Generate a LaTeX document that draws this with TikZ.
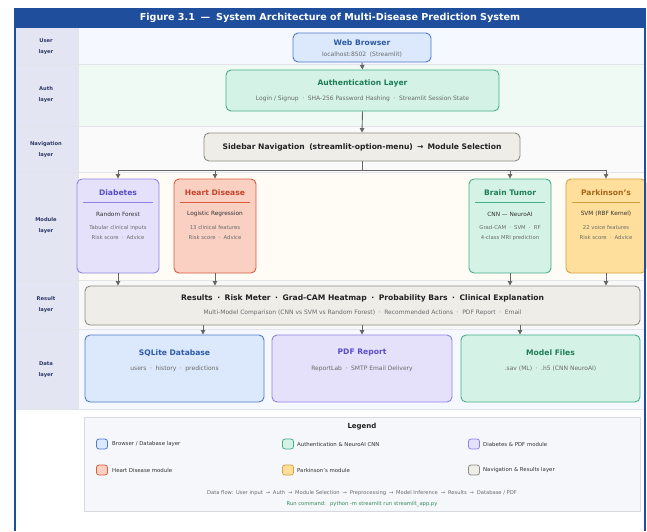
\documentclass[tikz,border=0pt]{standalone}
\usepackage{fontspec}
\setmainfont{DejaVu Sans}
\usetikzlibrary{arrows.meta,calc}
\definecolor{framebl}{HTML}{1F4E9C}
\definecolor{lblcol}{HTML}{E4E5F3}
\definecolor{lbltxt}{HTML}{2E3A66}
\definecolor{rowuser}{HTML}{F5F8FE}
\definecolor{rowauth}{HTML}{F0FAF5}
\definecolor{rownav}{HTML}{FAFAFA}
\definecolor{rowmod}{HTML}{FFFCF5}
\definecolor{rowres}{HTML}{F8F8F8}
\definecolor{rowdata}{HTML}{F5F8FE}
\definecolor{sepcol}{HTML}{E2E4EC}
\definecolor{bluef}{HTML}{DCE8FB}
\definecolor{blued}{HTML}{4F7BC9}
\definecolor{bluet}{HTML}{2D5BA8}
\definecolor{greenf}{HTML}{D4F3E6}
\definecolor{greend}{HTML}{45AE87}
\definecolor{greent}{HTML}{1F7D57}
\definecolor{purf}{HTML}{E5E1FB}
\definecolor{purd}{HTML}{8E82E3}
\definecolor{purt}{HTML}{5A4CCB}
\definecolor{redf}{HTML}{FAD0C3}
\definecolor{redd}{HTML}{D95B3D}
\definecolor{redt}{HTML}{C4432A}
\definecolor{yelf}{HTML}{FFDF9B}
\definecolor{yeld}{HTML}{D5A13E}
\definecolor{yelt}{HTML}{A2671C}
\definecolor{grayf}{HTML}{EEEDE8}
\definecolor{grayd}{HTML}{8C8B85}
\definecolor{darkt}{HTML}{222222}
\definecolor{midt}{HTML}{333333}
\definecolor{subg}{HTML}{6A6A6A}
\definecolor{arrg}{HTML}{666666}
\definecolor{legf}{HTML}{F6F7FA}
\definecolor{legd}{HTML}{D8DAE2}
\definecolor{runt}{HTML}{2E8B57}
\newcommand{\mysep}{\hspace{0.6em}·\hspace{0.6em}}
\newcommand{\myarr}{\hspace{0.55em}→\hspace{0.55em}}
\tikzset{
  box/.style={rounded corners=5pt, line width=0.9pt, inner sep=0pt, anchor=center},
  ttl/.style={font=\bfseries\fontsize{7.6}{9}\selectfont, inner sep=0pt},
  sm/.style={font=\fontsize{6}{7}\selectfont, text=subg, inner sep=0pt},
  msm/.style={font=\fontsize{5.3}{6.5}\selectfont, text=subg, inner sep=0pt},
  md/.style={font=\fontsize{5.8}{7}\selectfont, text=midt, inner sep=0pt},
  lay/.style={font=\bfseries\fontsize{5.2}{11}\selectfont, text=lbltxt, align=center, inner sep=0pt},
  arr/.style={draw=arrg, line width=0.9pt, -{Triangle[length=4.5pt,width=4.5pt]}},
  ln/.style={draw=arrg, line width=0.9pt},
  swatch/.style={rounded corners=2.5pt, line width=0.8pt, minimum width=11pt, minimum height=10pt, inner sep=0pt},
  legt/.style={font=\fontsize{5.4}{6.5}\selectfont, text=midt, anchor=west, inner sep=0pt}
}
\begin{document}
\begin{tikzpicture}[x=1pt,y=-1pt]
\useasboundingbox (0,0) rectangle (647,531);
% rows
\fill[lblcol] (15,28) rectangle (78,409);
\fill[rowuser] (78,28) rectangle (645,64);
\fill[rowauth] (78,64) rectangle (645,126);
\fill[rownav] (78,126) rectangle (645,172);
\fill[rowmod] (78,172) rectangle (645,280);
\fill[rowres] (78,280) rectangle (645,329);
\fill[rowdata] (78,329) rectangle (645,409);
\foreach \yy in {64,126,172,280,329,409} \draw[sepcol, line width=0.6pt] (15,\yy) -- (645,\yy);
\draw[sepcol, line width=0.6pt] (78,28) -- (78,409);
% layer labels
\node[lay] (l1) at (46,46.5) {User\\layer};
\node[lay] (l2) at (46,95) {Auth\\layer};
\node[lay] (l3) at (46,149.5) {Navigation\\layer};
\node[lay] (l4) at (46,226) {Module\\layer};
\node[lay] (l5) at (46,305) {Result\\layer};
\node[lay] (l6) at (46,370) {Data\\layer};
% title bar
\fill[framebl] (14,8) rectangle (645.8,28);
\node[font=\bfseries\fontsize{9.6}{11}\selectfont, text=white, inner sep=0pt] (title) at (330,18) {Figure 3.1\hspace{0.6em}—\hspace{0.6em}System Architecture of Multi-Disease Prediction System};
% web browser
\node[box, fill=bluef, draw=blued, minimum width=138pt, minimum height=29pt] (web) at (362,47.5) {};
\node[ttl, text=bluet] (webt) at (362,43) {Web Browser};
\node[sm] (webs) at (362,55) {localhost:8502\hspace{0.6em}(Streamlit)};
% auth
\node[box, fill=greenf, draw=greend, minimum width=273pt, minimum height=41pt] (auth) at (362.5,90.5) {};
\node[ttl, text=greent] (autht) at (362.5,83) {Authentication Layer};
\node[sm] (auths) at (362.5,99) {Login / Signup\mysep SHA-256 Password Hashing\mysep Streamlit Session State};
% nav
\node[box, fill=grayf, draw=grayd, minimum width=316pt, minimum height=28pt] (nav) at (362,147) {};
\node[ttl, text=darkt] (navt) at (362,147) {Sidebar Navigation\hspace{0.6em}(streamlit-option-menu)\myarr Module Selection};
% modules
\node[box, fill=purf, draw=purd, minimum width=82pt, minimum height=94pt] (diab) at (118,226) {};
\node[ttl, text=purt] (diabt) at (118,193) {Diabetes};
\draw[purd, line width=0.6pt] (83,202) -- (153,202);
\node[md] (diab1) at (118,214) {Random Forest};
\node[msm] (diab2) at (118,228) {Tabular clinical inputs};
\node[msm] (diab3) at (118,238) {Risk score\mysep Advice};

\node[box, fill=redf, draw=redd, minimum width=82pt, minimum height=94pt] (heart) at (215,226) {};
\node[ttl, text=redt] (heartt) at (215,193) {Heart Disease};
\draw[redd, line width=0.6pt] (180,202) -- (250,202);
\node[md] (heart1) at (215,213.5) {Logistic Regression};
\node[msm] (heart2) at (215,228) {13 clinical features};
\node[msm] (heart3) at (215,238) {Risk score\mysep Advice};

\node[box, fill=greenf, draw=greend, minimum width=82pt, minimum height=94pt] (brain) at (510,226) {};
\node[ttl, text=greent] (braint) at (510,193) {Brain Tumor};
\draw[greend, line width=0.6pt] (475,202) -- (545,202);
\node[md] (brain1) at (510,214) {CNN — NeuroAI};
\node[msm] (brain2) at (510,228) {Grad-CAM\mysep SVM\mysep RF};
\node[msm] (brain3) at (510,238) {4-class MRI prediction};

\node[box, fill=yelf, draw=yeld, minimum width=80pt, minimum height=94pt] (park) at (606,226) {};
\node[ttl, text=yelt] (parkt) at (606,193) {Parkinson's};
\draw[yeld, line width=0.6pt] (572,202) -- (640,202);
\node[md] (park1) at (606,214) {SVM (RBF Kernel)};
\node[msm] (park2) at (606,228) {22 voice features};
\node[msm] (park3) at (606,238) {Risk score\mysep Advice};
% result
\node[box, fill=grayf, draw=grayd, minimum width=555pt, minimum height=39pt] (res) at (362.5,305.5) {};
\node[ttl, text=darkt] (rest) at (362.5,298) {Results\mysep Risk Meter\mysep Grad-CAM Heatmap\mysep Probability Bars\mysep Clinical Explanation};
\node[sm] (ress) at (362.5,313) {Multi-Model Comparison (CNN vs SVM vs Random Forest)\mysep Recommended Actions\mysep PDF Report\mysep Email};
% data
\node[box, fill=bluef, draw=blued, minimum width=179pt, minimum height=67pt] (sql) at (174.5,368.5) {};
\node[ttl, text=bluet] (sqlt) at (174.5,353) {SQLite Database};
\node[sm] (sqls) at (174.5,369) {users\mysep history\mysep predictions};
\node[box, fill=purf, draw=purd, minimum width=180pt, minimum height=67pt] (pdf) at (362,368.5) {};
\node[ttl, text=purt] (pdft) at (362,353) {PDF Report};
\node[sm] (pdfs) at (362,369) {ReportLab\mysep SMTP Email Delivery};
\node[box, fill=greenf, draw=greend, minimum width=179pt, minimum height=67pt] (model) at (550.5,368.5) {};
\node[ttl, text=greent] (modelt) at (550.5,353) {Model Files};
\node[sm] (models) at (550.5,369) {.sav (ML)\mysep .h5 (CNN NeuroAI)};
% connectors
\draw[arr] (web.south) -- (auth.north);
\draw[arr] (auth.south) -- (nav.north);
\coordinate (bj) at (362,170);
\draw[ln] (nav.south) -- (bj);
\draw[arr] (bj) -| (diab.north);
\draw[arr] (bj) -| (heart.north);
\draw[arr] (bj) -| (brain.north);
\draw[arr] (bj) -| (park.north);
\draw[arr] (diab.south) -- (diab.south |- res.north);
\draw[arr] (heart.south) -- (heart.south |- res.north);
\draw[arr] (brain.south) -- (brain.south |- res.north);
\draw[arr] (park.south) -- (park.south |- res.north);
\coordinate (d1) at (203,0);
\coordinate (d2) at (362,0);
\coordinate (d3) at (520,0);
\draw[arr] (d1 |- res.south) -- (d1 |- sql.north);
\draw[arr] (d2 |- res.south) -- (d2 |- pdf.north);
\draw[arr] (d3 |- res.south) -- (d3 |- model.north);
% legend
\node[draw=legd, fill=legf, line width=0.6pt, minimum width=556pt, minimum height=94pt, inner sep=0pt] (leg) at (362,464) {};
\node[font=\bfseries\fontsize{7}{8}\selectfont, text=darkt, inner sep=0pt] (legtitle) at (362,427) {Legend};
\node[swatch, fill=bluef, draw=blued] (s1) at (102,444) {};
\node[legt] (t1) at (112,444) {Browser / Database layer};
\node[swatch, fill=greenf, draw=greend] (s2) at (288,444) {};
\node[legt] (t2) at (297,444) {Authentication \& NeuroAI CNN};
\node[swatch, fill=purf, draw=purd] (s3) at (474,444) {};
\node[legt] (t3) at (483,444) {Diabetes \& PDF module};
\node[swatch, fill=redf, draw=redd] (s4) at (102,470) {};
\node[legt] (t4) at (112,470) {Heart Disease module};
\node[swatch, fill=yelf, draw=yeld] (s5) at (288,470) {};
\node[legt] (t5) at (297,470) {Parkinson's module};
\node[swatch, fill=grayf, draw=grayd] (s6) at (474,470) {};
\node[legt] (t6) at (483,470) {Navigation \& Results layer};
\node[font=\fontsize{5.2}{6}\selectfont, text=subg, inner sep=0pt] (flow) at (362,493) {Data flow:\hspace{0.5em}User input\myarr Auth\myarr Module Selection\myarr Preprocessing\myarr Model Inference\myarr Results\myarr Database / PDF};
\node[font=\fontsize{5.2}{6}\selectfont, text=runt, inner sep=0pt] (run) at (362,504) {Run command:\hspace{0.8em}python -m streamlit run streamlit\_app.py};
% frame
\draw[framebl, line width=1.6pt] (14.8,8) -- (14.8,531);
\draw[framebl, line width=1.6pt] (645,8) -- (645,531);
\end{tikzpicture}
\end{document}
